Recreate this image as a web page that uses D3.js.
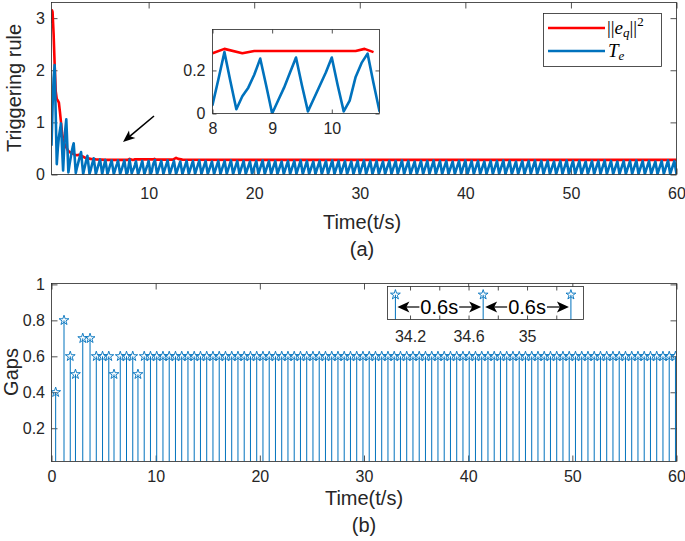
<!DOCTYPE html>
<html><head><meta charset="utf-8">
<script src="https://cdn.jsdelivr.net/npm/d3@7"></script>
<style>body{margin:0;background:#fff;}svg{display:block;}</style>
</head><body><svg id="c" width="685" height="541"></svg>
<script>
// ---------------- DATA ----------------
// (a) ||e_q||^2 (red)
const redTimes  = [0.8,0.85,0.9,1.0,1.1,1.2,1.3,1.4,1.5,1.6,1.7,1.8,1.9,2.0,2.2,2.4,2.6,2.8,3.0,3.2,3.4,3.6,3.8,4.0,4.5,5.0,5.5,6.0,7.0,8.0,8.2,8.5,8.7,10.4,10.55,10.7,12.3,12.6,12.8,13.2,20,30,40,50,60];
const redValues = [2.9,3.15,3.12,2.7,2.1,1.6,1.45,1.42,1.38,1.2,1.0,0.8,0.68,0.6,0.52,0.45,0.42,0.4,0.38,0.37,0.38,0.36,0.34,0.32,0.3,0.29,0.285,0.28,0.28,0.28,0.30,0.28,0.29,0.29,0.30,0.285,0.285,0.32,0.30,0.285,0.28,0.28,0.28,0.28,0.28];
// (a) T_e (blue), sampled every 0.1 s from 0.8 s to 10.8 s
const teStart = 0.8, teStep = 0.1;
const teValues = [0.55,1.30,1.85,2.10,1.15,0.20,0.50,0.72,0.85,0.98,
  0.52,0.08,0.50,0.85,1.06,0.55,0.04,0.18,0.30,0.42,
  0.52,0.60,0.32,0.03,0.12,0.20,0.28,0.36,0.43,0.22,
  0.01,0.10,0.19,0.28,0.36,0.19,0.01,0.08,0.16,0.24,
  0.31,0.16,0.01,0.08,0.15,0.22,0.29,0.15,0.01,0.10,
  0.19,0.28,0.15,0.01,0.07,0.14,0.21,0.27,0.14,0.01,
  0.07,0.14,0.20,0.27,0.14,0.01,0.07,0.13,0.20,0.27,
  0.14,0.01,0.04,0.16,0.285,0.15,0.02,0.08,0.12,0.18,
  0.255,0.13,0.00,0.06,0.12,0.19,0.26,0.13,0.01,0.07,
  0.13,0.19,0.26,0.13,0.01,0.06,0.17,0.235,0.278,0.14,
  0.01];
// (a) T_e steady state: peak value of each tooth after 10.8 s (trough value teTrough)
const teSteadyPeaks = [0.26,0.27,0.26,0.25,0.26,0.26,0.27,0.26,0.25,0.26,
  0.26,0.27,0.26,0.26,0.25,0.26,0.27,0.26,0.26,0.25,
  0.26,0.26,0.27,0.26,0.25,0.26,0.26,0.27,0.26,0.26,
  0.25,0.26,0.27,0.26,0.26,0.25,0.26,0.26,0.27,0.26,
  0.25,0.26,0.26,0.27,0.26,0.26,0.25,0.26,0.27,0.26,
  0.26,0.25,0.26,0.26,0.27,0.26,0.25,0.26,0.26,0.27,
  0.26,0.26,0.25,0.26,0.27,0.26,0.26,0.25,0.26,0.26,
  0.27,0.26,0.25,0.26,0.26,0.27,0.26,0.26,0.25,0.26,
  0.27,0.26];
const teTrough = 0.01;
// (b) inter-event gaps (s), one per triggering instant
const gapValues = [0.4,0.8,0.6,0.5,0.7,0.7,0.6,0.6,0.6,0.5,0.6,0.6,0.6,0.5,
  0.6,0.6,0.6,0.6,0.6,0.6,0.6,0.6,0.6,0.6,0.6,0.6,0.6,0.6,0.6,0.6,0.6,0.6,0.6,0.6,
  0.6,0.6,0.6,0.6,0.6,0.6,0.6,0.6,0.6,0.6,0.6,0.6,0.6,0.6,0.6,0.6,0.6,0.6,0.6,0.6,
  0.6,0.6,0.6,0.6,0.6,0.6,0.6,0.6,0.6,0.6,0.6,0.6,0.6,0.6,0.6,0.6,0.6,0.6,0.6,0.6,
  0.6,0.6,0.6,0.6,0.6,0.6,0.6,0.6,0.6,0.6,0.6,0.6,0.6,0.6,0.6,0.6,0.6,0.6,0.6,0.6,
  0.6,0.6,0.6,0.6,0.6,0.6];
// ticks
const xTicksA = [10,20,30,40,50,60];
const yTicksA = [0,1,2,3];
const xTicksInsetA = [8,9,10];
const yTicksInsetA = [0,0.2];
const xTicksB = [0,10,20,30,40,50,60];
const yTicksB = [0.2,0.4,0.6,0.8,1];
const xTicksInsetB = [34.2,34.4,34.6,34.8,35,35.2];
const xLabelsInsetB = ["34.2","","34.6","","35",""];
const gapAnnot = "0.6s";

// ---------------- DRAW ----------------
const FONT = '"Liberation Sans", Arial, Helvetica, sans-serif';
const SERIF = '"Liberation Serif", "DejaVu Serif", serif';
const AX = "#262626", BLUE = "#0072BD", RED = "#FF0000";
const svg = d3.select("#c");
const r1 = v => Math.round(v*10)/10;

// derived series
const trig = []; let acc = 0;
gapValues.forEach(g => { acc = r1(acc + g); trig.push(acc); });
const teSeries = teValues.map((v,i) => [r1(teStart + i*teStep), v]);
const sIdx = trig.indexOf(10.7);
teSteadyPeaks.forEach((p,j) => {
  const tn = trig[sIdx+1+j];
  teSeries.push([r1(tn-0.1), p]);
  teSeries.push([r1(tn+0.1), teTrough]);
});
const redSeries = redTimes.map((t,i)=>[t, redValues[i]]);
const stems = trig.map((t,i)=>[t, gapValues[i]]);

function styleAxis(g, fs){
  g.select(".domain").remove();
  g.selectAll(".tick line").attr("stroke",AX).attr("stroke-width",0.8);
  g.selectAll(".tick text").attr("fill",AX).style("font-size",fs+"px").style("font-family",FONT);
}
function frame(box, x, y, o){
  const g = svg.append("g");
  g.append("rect").attr("x",box.l).attr("y",box.t).attr("width",box.r-box.l).attr("height",box.b-box.t)
    .attr("fill","#fff");
  const tl = o.tick;
  const gb = g.append("g").attr("transform",`translate(0,${box.b})`)
    .call(d3.axisBottom(x).tickValues(o.xt).tickSizeInner(-tl).tickSizeOuter(0).tickPadding(o.xpad).tickFormat(o.xf));
  styleAxis(gb, o.fs);
  const gt = g.append("g").attr("transform",`translate(0,${box.t})`)
    .call(d3.axisTop(x).tickValues(o.xt).tickSizeInner(-tl).tickSizeOuter(0).tickFormat(""));
  styleAxis(gt, o.fs);
  if (o.yt) {
    const gl = g.append("g").attr("transform",`translate(${box.l},0)`)
      .call(d3.axisLeft(y).tickValues(o.yt).tickSizeInner(-tl).tickSizeOuter(0).tickPadding(o.ypad).tickFormat(o.yf));
    styleAxis(gl, o.fs);
    const gr = g.append("g").attr("transform",`translate(${box.r},0)`)
      .call(d3.axisRight(y).tickValues(o.yt).tickSizeInner(-tl).tickSizeOuter(0).tickFormat(""));
    styleAxis(gr, o.fs);
  }
  return g;
}
function border(box){
  svg.append("rect").attr("x",box.l).attr("y",box.t).attr("width",box.r-box.l).attr("height",box.b-box.t)
    .attr("fill","none").attr("stroke",AX).attr("stroke-width",0.8);
}
let clipN = 0;
function clip(box){
  const id = "clip"+(clipN++);
  svg.append("clipPath").attr("id",id).append("rect")
    .attr("x",box.l).attr("y",box.t).attr("width",box.r-box.l).attr("height",box.b-box.t);
  return `url(#${id})`;
}
function arrowHead(g, tip, dir, L, W){
  const [dx,dy] = dir; const px=-dy, py=dx;
  const bx = tip[0]-dx*L, by = tip[1]-dy*L;
  const ix = tip[0]-dx*L*0.75, iy = tip[1]-dy*L*0.75;
  g.append("path").attr("d",`M${tip[0]},${tip[1]}L${bx+px*W},${by+py*W}L${ix},${iy}L${bx-px*W},${by-py*W}Z`)
    .attr("fill","#000");
}
function label(txt, x, y, fs, rot){
  const t = svg.append("text").attr("text-anchor","middle").attr("fill",AX)
    .style("font-family",FONT).style("font-size",fs+"px").text(txt);
  if (rot) t.attr("transform",`translate(${x},${y}) rotate(-90)`);
  else t.attr("x",x).attr("y",y);
}

// ===== Panel (a) =====
const A = {l:51.5, r:676.5, t:2.5, b:174.5};
const xa = d3.scaleLinear().domain([0.8,60]).range([A.l,A.r]);
const ya = d3.scaleLinear().domain([0,3.3]).range([A.b,A.t]);
frame(A, xa, ya, {xt:xTicksA, yt:yTicksA, tick:6, xpad:13, ypad:6.5, fs:16, xf:d=>d, yf:d=>d});
const cA = clip(A);
const lineA = d3.line().x(d=>xa(d[0])).y(d=>ya(d[1]));
svg.append("path").attr("clip-path",cA).attr("d",lineA(redSeries)).attr("fill","none").attr("stroke",RED).attr("stroke-width",2.6).attr("stroke-linejoin","round");
svg.append("path").attr("clip-path",cA).attr("d",lineA(teSeries)).attr("fill","none").attr("stroke",BLUE).attr("stroke-width",2.6).attr("stroke-linejoin","round");
border(A);
label("Time(t/s)", 362, 229, 20);
label("(a)", 362, 256, 20);
label("Triggering rule", 21, 88, 20, true);

// arrow annotation in (a)
{
  const g = svg.append("g");
  const s=[154,116], e=[123,142];
  const len = Math.hypot(e[0]-s[0], e[1]-s[1]); const dir=[(e[0]-s[0])/len,(e[1]-s[1])/len];
  g.append("line").attr("x1",s[0]).attr("y1",s[1]).attr("x2",e[0]-dir[0]*6).attr("y2",e[1]-dir[1]*6).attr("stroke","#000").attr("stroke-width",1.6);
  arrowHead(g, e, dir, 12, 5);
}

// inset (a)
const IA = {l:212.5, r:379.5, t:29.5, b:113.5};
const xia = d3.scaleLinear().domain([8,10.8]).range([IA.l,IA.r]);
const yia = d3.scaleLinear().domain([0,0.39]).range([IA.b,IA.t]);
frame(IA, xia, yia, {xt:xTicksInsetA, yt:yTicksInsetA, tick:4, xpad:9.5, ypad:7, fs:16, xf:d=>d, yf:d=>d});
const cIA = clip(IA);
const lineIA = d3.line().x(d=>xia(d[0])).y(d=>yia(d[1]));
const inWin = s => s.filter(d=>d[0]>=7.5 && d[0]<=11.5);
svg.append("path").attr("clip-path",cIA).attr("d",lineIA(inWin(redSeries))).attr("fill","none").attr("stroke",RED).attr("stroke-width",2.6).attr("stroke-linejoin","round");
svg.append("path").attr("clip-path",cIA).attr("d",lineIA(inWin(teSeries))).attr("fill","none").attr("stroke",BLUE).attr("stroke-width",2.6).attr("stroke-linejoin","round");
border(IA);

// legend
{
  const L = {l:543.5, t:13.5, r:661.5, b:66.5};
  svg.append("rect").attr("x",L.l).attr("y",L.t).attr("width",L.r-L.l).attr("height",L.b-L.t)
    .attr("fill","#fff").attr("stroke",AX).attr("stroke-width",0.8);
  svg.append("line").attr("x1",548).attr("x2",605).attr("y1",28).attr("y2",28).attr("stroke",RED).attr("stroke-width",2.6);
  svg.append("line").attr("x1",548).attr("x2",605).attr("y1",51).attr("y2",51).attr("stroke",BLUE).attr("stroke-width",2.6);
  const t1 = svg.append("text").attr("x",607).attr("y",34).attr("fill","#000").style("font-family",SERIF).style("font-size","19px");
  t1.append("tspan").text("||");
  t1.append("tspan").style("font-style","italic").text("e");
  t1.append("tspan").style("font-style","italic").style("font-size","13px").attr("dy",3).text("q");
  t1.append("tspan").attr("dy",-3).text("||");
  t1.append("tspan").style("font-size","13px").attr("dy",-8).text("2");
  const t2 = svg.append("text").attr("x",608).attr("y",57).attr("fill","#000").style("font-family",SERIF).style("font-size","19px");
  t2.append("tspan").style("font-style","italic").text("T");
  t2.append("tspan").style("font-style","italic").style("font-size","13px").attr("dy",3).text("e");
}

// ===== Panel (b) =====
const B = {l:51.5, r:676.5, t:283.5, b:461.5};
const xb = d3.scaleLinear().domain([0,60]).range([B.l,B.r]);
const yb = d3.scaleLinear().domain([0.015,1.005]).range([B.b,B.t]);
frame(B, xb, yb, {xt:xTicksB, yt:yTicksB, tick:6, xpad:9, ypad:6.5, fs:16, xf:d=>d, yf:d=>d});
const cB = clip(B);
const star = d3.symbol().type(d3.symbolStar).size(30);
function drawStems(xs, ys, cp, base){
  const g = svg.append("g").attr("clip-path",cp);
  g.selectAll("line").data(stems).join("line")
    .attr("x1",d=>xs(d[0])).attr("x2",d=>xs(d[0])).attr("y1",base).attr("y2",d=>ys(d[1]))
    .attr("stroke",BLUE).attr("stroke-width",1);
  g.selectAll("path").data(stems).join("path")
    .attr("transform",d=>`translate(${xs(d[0])},${ys(d[1])})`).attr("d",star)
    .attr("fill","none").attr("stroke",BLUE).attr("stroke-width",0.9);
}
drawStems(xb, yb, cB, B.b);
border(B);
label("Time(t/s)", 364, 505, 20);
label("(b)", 364, 532, 20);
label("Gaps", 18, 372, 20, true);

// inset (b)
const IB = {l:387.5, r:583.5, t:286.5, b:319.5};
const xib = d3.scaleLinear().domain([34.046,35.386]).range([IB.l,IB.r]);
const yib = d3.scaleLinear().domain([0.45,0.65]).range([IB.b,IB.t]);
frame(IB, xib, yib, {xt:xTicksInsetB, tick:4, xpad:11.5, fs:16, xf:(d,i)=>xLabelsInsetB[i]});
const cIB = clip(IB);
drawStems(xib, yib, cIB, IB.b);
border(IB);
{
  const g = svg.append("g");
  const inStems = stems.filter(d=>d[0]>=xib.domain()[0] && d[0]<=xib.domain()[1]);
  const yy = 307;
  for (let i=0;i<inStems.length-1;i++){
    const xl = xib(inStems[i][0])+2, xr = xib(inStems[i+1][0])-2, xc=(xl+xr)/2;
    const t = g.append("text").attr("x",xc).attr("y",yy+7).attr("text-anchor","middle").attr("fill","#000")
      .style("font-family",FONT).style("font-size","20px").text(gapAnnot);
    const w = t.node().getComputedTextLength();
    g.append("line").attr("x1",xl+6).attr("x2",xc-w/2-1).attr("y1",yy).attr("y2",yy).attr("stroke","#000").attr("stroke-width",1.2);
    g.append("line").attr("x1",xc+w/2+1).attr("x2",xr-6).attr("y1",yy).attr("y2",yy).attr("stroke","#000").attr("stroke-width",1.2);
    arrowHead(g, [xl,yy], [-1,0], 12, 5.5);
    arrowHead(g, [xr,yy], [1,0], 12, 5.5);
  }
}
</script></body></html>
